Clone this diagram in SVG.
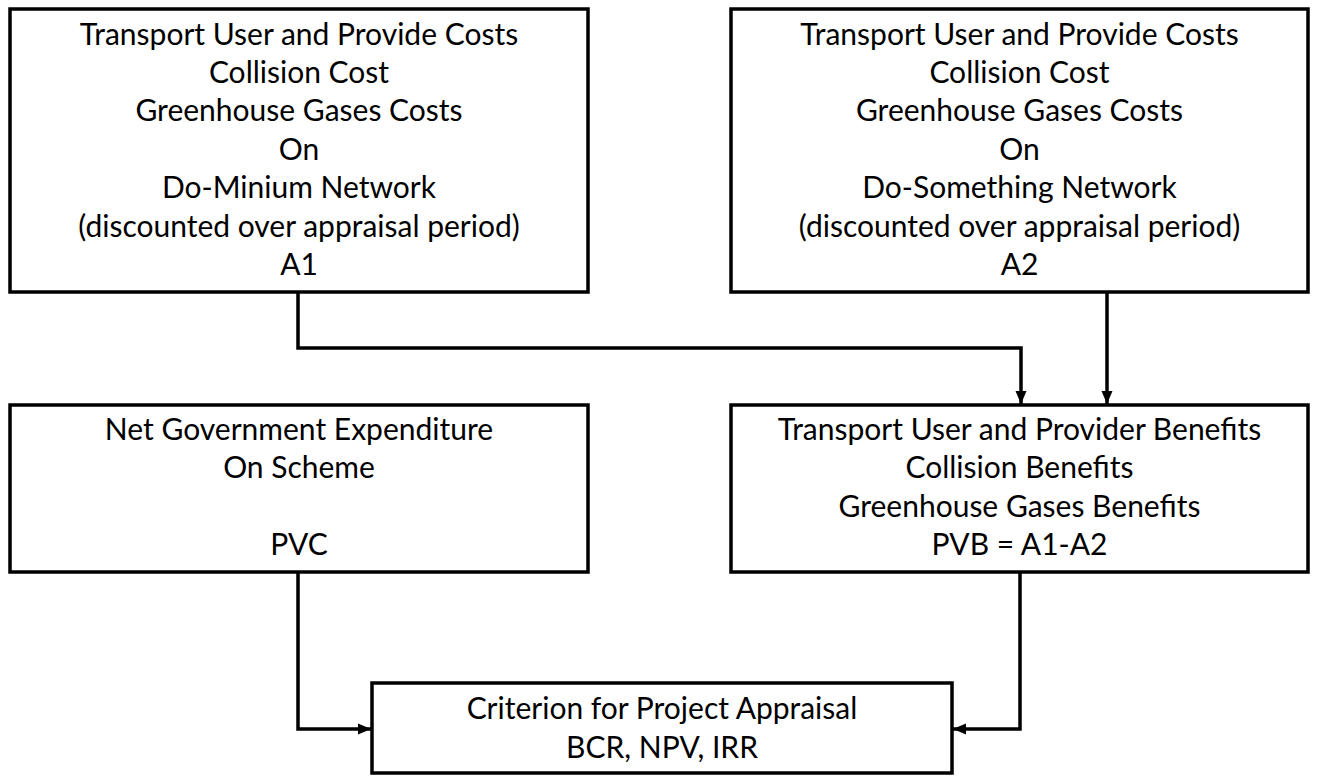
<svg xmlns="http://www.w3.org/2000/svg" width="1317" height="776" viewBox="0 0 1317 776">
<defs>
<style>
.box{fill:#fff;stroke:#000;stroke-width:3.5}
.t{font-family:Lato,"Open Sans","Liberation Sans",sans-serif;font-size:30px;fill:#000;text-anchor:middle}
.c{fill:none;stroke:#000;stroke-width:3.5}
</style>
<marker id="ah" markerUnits="userSpaceOnUse" markerWidth="14" markerHeight="14" viewBox="0 0 14 14" refX="13" refY="7" orient="auto">
<path d="M0,1.5 L13,7 L0,12.5 Z" fill="#000"/>
</marker>
</defs>
<rect width="1317" height="776" fill="#fff"/>
<g id="connectors">
<path class="c" d="M298,292 V348 H1021 V404" marker-end="url(#ah)"/>
<path class="c" d="M1107,292 V404" marker-end="url(#ah)"/>
<path class="c" d="M298,572 V729 H371" marker-end="url(#ah)"/>
<path class="c" d="M1020,572 V729 H953" marker-end="url(#ah)"/>
</g>
<g id="do-minimum">
<rect class="box" x="10" y="9" width="578" height="283"/>
<text class="t" x="299" y="45">Transport User and Provide Costs</text>
<text class="t" x="299" y="83">Collision Cost</text>
<text class="t" x="299" y="121">Greenhouse Gases Costs</text>
<text class="t" x="299" y="160">On</text>
<text class="t" x="299" y="198">Do-Minium Network</text>
<text class="t" x="299" y="237">(discounted over appraisal period)</text>
<text class="t" x="299" y="275">A1</text>
</g>
<g id="do-something">
<rect class="box" x="731" y="9" width="577" height="283"/>
<text class="t" x="1019.5" y="45">Transport User and Provide Costs</text>
<text class="t" x="1019.5" y="83">Collision Cost</text>
<text class="t" x="1019.5" y="121">Greenhouse Gases Costs</text>
<text class="t" x="1019.5" y="160">On</text>
<text class="t" x="1019.5" y="198">Do-Something Network</text>
<text class="t" x="1019.5" y="237">(discounted over appraisal period)</text>
<text class="t" x="1019.5" y="275">A2</text>
</g>
<g id="pvc">
<rect class="box" x="10" y="405" width="578" height="167"/>
<text class="t" x="299" y="440">Net Government Expenditure</text>
<text class="t" x="299" y="478">On Scheme</text>
<text class="t" x="299" y="555">PVC</text>
</g>
<g id="pvb">
<rect class="box" x="731" y="405" width="577" height="167"/>
<text class="t" x="1019.5" y="440">Transport User and Provider Benefits</text>
<text class="t" x="1019.5" y="478">Collision Benefits</text>
<text class="t" x="1019.5" y="517">Greenhouse Gases Benefits</text>
<text class="t" x="1019.5" y="555">PVB = A1-A2</text>
</g>
<g id="criterion">
<rect class="box" x="372" y="683" width="580" height="90"/>
<text class="t" x="662" y="719">Criterion for Project Appraisal</text>
<text class="t" x="662" y="758">BCR, NPV, IRR</text>
</g>
</svg>
